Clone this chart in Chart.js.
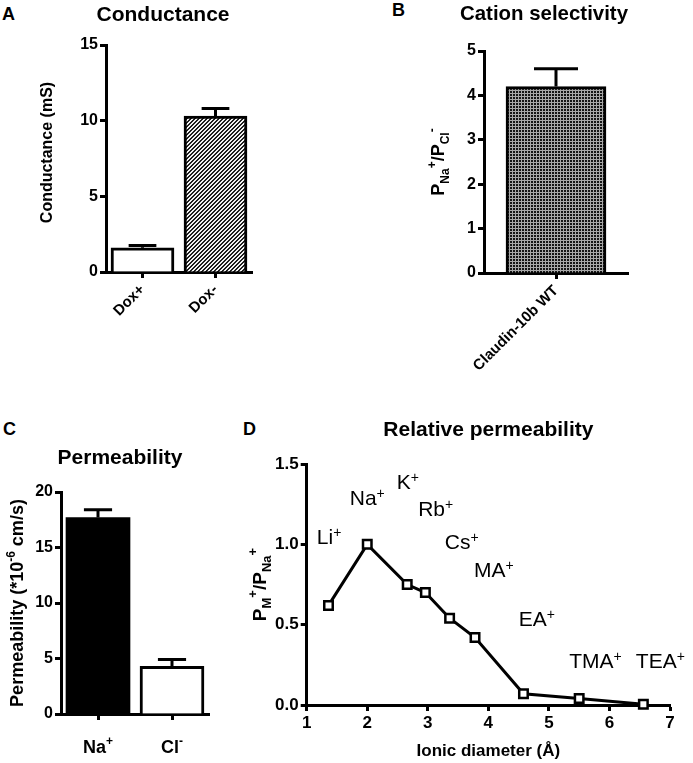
<!DOCTYPE html>
<html>
<head>
<meta charset="utf-8">
<script src="https://cdn.jsdelivr.net/npm/chart.js@4.4.1/dist/chart.umd.min.js"></script>
<style>
    body { margin: 0; background: #fff; }
    #page { position: relative; width: 693px; height: 763px; overflow: hidden; }
    canvas { position: absolute; }
    .panel-letter {
        position: absolute;
        font: bold 18px 'Liberation Sans', Arial, sans-serif;
        line-height: 18px;
        color: #000;
    }
</style>
</head>
<body>
<div id="page">
    <div class="panel-letter" style="left:2px;top:5px">A</div>
    <div class="panel-letter" style="left:392px;top:1px">B</div>
    <div class="panel-letter" style="left:3px;top:420px">C</div>
    <div class="panel-letter" style="left:243px;top:420px">D</div>
    <canvas id="chartA" width="326" height="345" style="left:0;top:0"></canvas>
    <canvas id="chartB" width="298" height="395" style="left:395px;top:0"></canvas>
    <canvas id="chartC" width="240" height="363" style="left:0;top:400px"></canvas>
    <canvas id="chartD" width="453" height="373" style="left:240px;top:390px"></canvas>
</div>
<script>
//------------------------------------------------------------
// data
const conductanceLabels = ['Dox+', 'Dox-'];
const conductanceValues = [1.6, 10.3];
const conductanceErrors = [0.15, 0.5];

const selectivityLabels = ['Claudin-10b WT'];
const selectivityValues = [4.2];
const selectivityErrors = [0.4];

const permeabilityIons = ['Na', 'Cl'];
const permeabilityCharges = ['+', '-'];
const permeabilityValues = [17.7, 4.3];
const permeabilityErrors = [0.7, 0.6];

const ionNames = ['Li', 'Na', 'K', 'Rb', 'Cs', 'MA', 'EA', 'TMA', 'TEA'];
const ionDiameters = [1.36, 2.0, 2.66, 2.96, 3.36, 3.78, 4.58, 5.5, 6.56];
const relativePermeability = [0.62, 1.0, 0.75, 0.70, 0.54, 0.42, 0.07, 0.04, 0.005];
// where each ion name sits (data units: centre x, baseline y)
const ionLabelX = [1.37, 2.0, 2.67, 3.13, 3.56, 4.09, 4.8, 5.77, 6.84];
const ionLabelY = [1.0, 1.245, 1.343, 1.176, 0.969, 0.795, 0.494, 0.232, 0.232];

//------------------------------------------------------------
const FONT = "'Liberation Sans', Arial, sans-serif";
Chart.defaults.font.family = FONT;
Chart.defaults.color = '#000';

const titleFont = { size: 21, weight: 'bold' };
const tickFont = { size: 16, weight: 'bold' };

//----------------------------------
function makePattern(size, painter) {
    const c = document.createElement('canvas');
    c.width = size;
    c.height = size;
    const g = c.getContext('2d');
    for (let x = 0; x < size; x++) {
        for (let y = 0; y < size; y++) {
            g.fillStyle = painter(x, y);
            g.fillRect(x, y, 1, 1);
        }
    }
    return g.createPattern(c, 'repeat');
}

const stripePattern = makePattern(4, (x, y) => ((x + y) % 4 < 2 ? '#1e1e1e' : '#f2f2f2'));
const checkPattern = makePattern(3, (x, y) => (x > 0 && y > 0 ? '#151515' : '#a8a8a8'));

//----------------------------------
// text with sub/superscripts, centred on x, rotated about (x, y)
function drawRich(ctx, parts, x, y, rotation, baseline) {
    ctx.save();
    ctx.translate(x, y);
    ctx.rotate(rotation || 0);
    ctx.fillStyle = '#000';
    ctx.textAlign = 'left';
    ctx.textBaseline = 'alphabetic';
    let total = 0;
    parts.forEach(p => {
        ctx.font = p.font;
        p.w = ctx.measureText(p.text).width;
        total += p.w;
    });
    let cx = -total / 2;
    parts.forEach(p => {
        ctx.font = p.font;
        ctx.fillText(p.text, cx, (baseline || 0) + (p.dy || 0));
        cx += p.w;
    });
    ctx.restore();
}

//----------------------------------
const errorBarPlugin = {
    id: 'errorBars',
    afterDatasetsDraw(chart, args, opts) {
        const errors = opts.errors || [];
        const values = chart.data.datasets[0].data;
        const yScale = chart.scales.y;
        const ctx = chart.ctx;
        ctx.save();
        ctx.strokeStyle = '#000';
        ctx.lineWidth = 3;
        chart.getDatasetMeta(0).data.forEach((bar, i) => {
            const top = yScale.getPixelForValue(values[i] + errors[i]);
            const half = bar.width * 0.22;
            ctx.beginPath();
            ctx.moveTo(bar.x, bar.y);
            ctx.lineTo(bar.x, top);
            ctx.moveTo(bar.x - half, top);
            ctx.lineTo(bar.x + half, top);
            ctx.stroke();
        });
        ctx.restore();
    }
};

//----------------------------------
function axisBase() {
    return {
        z: 1,
        grid: {
            display: true, drawOnChartArea: false, drawTicks: true, offset: false,
            tickLength: 6, tickWidth: 3, tickColor: '#000'
        },
        border: { display: true, width: 3, color: '#000' },
        ticks: { font: tickFont, color: '#000', padding: 2 },
    };
}

function barOptions(opts) {
    const x = axisBase();
    x.afterFit = s => { s.height = opts.xHeight; };
    Object.assign(x.ticks, opts.xTicks || {});
    const y = axisBase();
    y.min = 0;
    y.max = opts.yMax;
    y.ticks.stepSize = opts.yStep;
    y.afterFit = s => { s.width = opts.yWidth; };
    return {
        responsive: false,
        animation: false,
        events: [],
        layout: { padding: { left: opts.left, top: 0, bottom: 0, right: opts.right } },
        plugins: {
            legend: { display: false },
            tooltip: { enabled: false },
            title: { display: true, text: opts.title, font: titleFont, color: '#000', padding: opts.titlePad },
            errorBars: { errors: opts.errors },
        },
        scales: { x: x, y: y },
    };
}

//------------------------------------------------------------
// A - conductance
const conductanceAxisTitle = {
    id: 'conductanceAxisTitle',
    afterDraw(chart) {
        const area = chart.chartArea;
        drawRich(chart.ctx, [{ text: 'Conductance (mS)', font: 'bold 16px ' + FONT }],
            46, (area.top + area.bottom) / 2 - 6, -Math.PI / 2, 5.7);
    }
};

new Chart(document.getElementById('chartA'), {
    type: 'bar',
    data: {
        labels: conductanceLabels,
        datasets: [{
            data: conductanceValues,
            backgroundColor: ['#ffffff', stripePattern],
            borderColor: '#000', borderWidth: 3, borderSkipped: 'start',
            barThickness: 63,
        }],
    },
    options: barOptions({
        title: 'Conductance', titlePad: { top: 2.4, bottom: 17.4 },
        left: 74, right: 74, xHeight: 73, yWidth: 32, yMax: 15, yStep: 5,
        xTicks: { minRotation: 45, maxRotation: 45, font: { size: 15, weight: 'bold' }, padding: 3 },
        errors: conductanceErrors,
    }),
    plugins: [errorBarPlugin, conductanceAxisTitle],
});

//------------------------------------------------------------
// B - cation selectivity
const selectivityAxisTitle = {
    id: 'selectivityAxisTitle',
    afterDraw(chart) {
        const b = 'bold 18px ' + FONT;
        const s = 'bold 12px ' + FONT;
        const area = chart.chartArea;
        drawRich(chart.ctx, [
            { text: 'P', font: b },
            { text: 'Na', font: s, dy: 5 },
            { text: '+', font: s, dy: -8 },
            { text: '/P', font: b },
            { text: 'Cl', font: s, dy: 5 },
            { text: '-', font: s, dy: -8 },
        ], 43, (area.top + area.bottom) / 2, -Math.PI / 2, 6.4);
    }
};

new Chart(document.getElementById('chartB'), {
    type: 'bar',
    data: {
        labels: selectivityLabels,
        datasets: [{
            data: selectivityValues,
            backgroundColor: checkPattern,
            borderColor: '#000', borderWidth: 3, borderSkipped: 'start',
            barThickness: 100,
        }],
    },
    options: barOptions({
        title: 'Cation selectivity', titlePad: { top: 2, bottom: 23.8 },
        left: 65, right: 65, xHeight: 122, yWidth: 24, yMax: 5, yStep: 1,
        xTicks: { minRotation: 45, maxRotation: 45, font: { size: 15, weight: 'bold' }, padding: 3 },
        errors: selectivityErrors,
    }),
    plugins: [errorBarPlugin, selectivityAxisTitle],
});

//------------------------------------------------------------
// C - permeability
const permeabilityText = {
    id: 'permeabilityText',
    afterDraw(chart) {
        const ctx = chart.ctx;
        const area = chart.chartArea;
        const xScale = chart.scales.x;
        permeabilityIons.forEach((ion, i) => {
            drawRich(ctx, [
                { text: ion, font: 'bold 18px ' + FONT },
                { text: permeabilityCharges[i], font: 'bold 12px ' + FONT, dy: -8 },
            ], xScale.getPixelForTick(i), area.bottom + 39, 0, 0);
        });
        drawRich(ctx, [
            { text: 'Permeability (*10', font: 'bold 18px ' + FONT },
            { text: '-6', font: 'bold 12px ' + FONT, dy: -8 },
            { text: ' cm/s)', font: 'bold 18px ' + FONT },
        ], 17, (area.top + area.bottom) / 2, -Math.PI / 2, 6.4);
    }
};

new Chart(document.getElementById('chartC'), {
    type: 'bar',
    data: {
        labels: permeabilityIons,
        datasets: [{
            data: permeabilityValues,
            backgroundColor: ['#000000', '#ffffff'],
            borderColor: '#000', borderWidth: [0, 3], borderSkipped: 'start',
            barThickness: 64,
        }],
    },
    options: barOptions({
        title: 'Permeability', titlePad: { top: 45.4, bottom: 21.4 },
        left: 31, right: 31, xHeight: 49, yWidth: 30, yMax: 20, yStep: 5,
        xTicks: { display: false },
        errors: permeabilityErrors,
    }),
    plugins: [errorBarPlugin, permeabilityText],
});

//------------------------------------------------------------
// D - relative permeability
const ionLabels = {
    id: 'ionLabels',
    afterDatasetsDraw(chart) {
        const ctx = chart.ctx;
        const xs = chart.scales.x;
        const ys = chart.scales.y;
        ionNames.forEach((name, i) => {
            drawRich(ctx, [
                { text: name, font: '21px ' + FONT },
                { text: '+', font: '14px ' + FONT, dy: -7 },
            ], xs.getPixelForValue(ionLabelX[i]), ys.getPixelForValue(ionLabelY[i]), 0, 0);
        });
        const area = chart.chartArea;
        const b = 'bold 19px ' + FONT;
        const s = 'bold 13px ' + FONT;
        drawRich(ctx, [
            { text: 'P', font: b },
            { text: 'M', font: s, dy: 5 },
            { text: '+', font: s, dy: -9 },
            { text: '/P', font: b },
            { text: 'Na', font: s, dy: 5 },
            { text: '+', font: s, dy: -9 },
        ], 19, (area.top + area.bottom) / 2, -Math.PI / 2, 6.8);
    }
};

const dX = axisBase();
dX.z = 0;
dX.type = 'linear';
dX.min = 1;
dX.max = 7;
dX.ticks.stepSize = 1;
dX.ticks.font = { size: 17, weight: 'bold' };
dX.title = { display: true, text: 'Ionic diameter (Å)', font: { size: 17, weight: 'bold' }, color: '#000', padding: { top: 0, bottom: 1.4 } };
dX.afterFit = s => { s.height = 58; };

const dY = axisBase();
dY.z = 0;
dY.min = 0;
dY.max = 1.5;
dY.ticks.stepSize = 0.5;
dY.ticks.font = { size: 17, weight: 'bold' };
dY.ticks.callback = v => v.toFixed(1);
dY.afterFit = s => { s.width = 66.7; };

new Chart(document.getElementById('chartD'), {
    type: 'scatter',
    data: {
        datasets: [{
            data: ionDiameters.map((d, i) => ({ x: d, y: relativePermeability[i] })),
            showLine: true,
            borderColor: '#000',
            borderWidth: 3,
            pointStyle: 'rect',
            pointRadius: 6,
            pointBorderWidth: 2.5,
            pointBackgroundColor: '#fff',
            pointBorderColor: '#000',
            clip: false,
        }],
    },
    options: {
        responsive: false,
        animation: false,
        events: [],
        layout: { padding: { left: 0, top: 0, bottom: 0, right: 23 } },
        plugins: {
            legend: { display: false },
            tooltip: { enabled: false },
            title: {
                display: true, text: 'Relative permeability', font: titleFont, color: '#000',
                fullSize: false, padding: { top: 27.4, bottom: 21.4 }
            },
        },
        scales: { x: dX, y: dY },
    },
    plugins: [ionLabels],
});
</script>
</body>
</html>
